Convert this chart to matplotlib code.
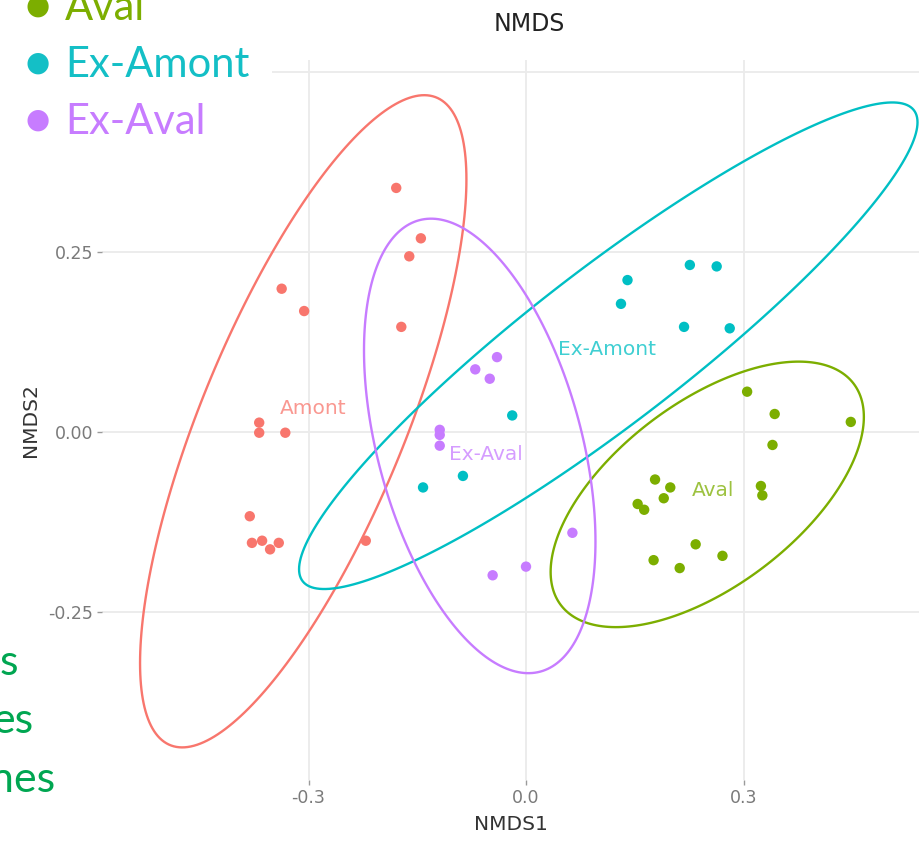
import numpy as np
import matplotlib
matplotlib.use('Agg')
import matplotlib.pyplot as plt
from matplotlib.patches import Rectangle, Polygon

# ---------------- data ----------------
groups = ['Amont', 'Aval', 'Ex-Amont', 'Ex-Aval']
colors = ['#F8766D', '#7CAE00', '#00BFC4', '#C77CFF']

amont_x = [-0.179, -0.145, -0.161, -0.337, -0.306, -0.172, -0.368, -0.368,
           -0.332, -0.381, -0.378, -0.364, -0.353, -0.341, -0.221]
amont_y = [0.339, 0.269, 0.244, 0.199, 0.168, 0.146, 0.013, -0.001,
           -0.001, -0.117, -0.154, -0.151, -0.163, -0.154, -0.151]

aval_x = [0.305, 0.343, 0.448, 0.340, 0.178, 0.199, 0.190, 0.154,
          0.163, 0.324, 0.326, 0.234, 0.176, 0.212, 0.271]
aval_y = [0.056, 0.025, 0.014, -0.018, -0.066, -0.077, -0.092, -0.100,
          -0.108, -0.075, -0.088, -0.156, -0.178, -0.189, -0.172]

examont_x = [0.140, 0.131, 0.226, 0.263, 0.218, 0.281, -0.019, -0.087, -0.142]
examont_y = [0.211, 0.178, 0.232, 0.230, 0.146, 0.144, 0.023, -0.061, -0.077]

exaval_x = [-0.040, -0.070, -0.050, -0.119, -0.119, -0.119, 0.064, 0.000, -0.046]
exaval_y = [0.104, 0.087, 0.074, 0.003, -0.004, -0.019, -0.140, -0.187, -0.199]

xs = [amont_x, aval_x, examont_x, exaval_x]
ys = [amont_y, aval_y, examont_y, exaval_y]

xticks = [-0.3, 0.0, 0.3]
xticklabels = ['-0.3', '0.0', '0.3']
yticks = [-0.25, 0.0, 0.25, 0.5]
yticklabels = ['-0.25', '0.00', '0.25', '0.50']

legend_labels = ['Aval', 'Ex-Amont', 'Ex-Aval']
legend_colors = ['#7CAE00', '#14BFC6', '#C77CFF']
side_text = ['s', 'es', 'nes']


# ------------- stat_ellipse (type "t", level 0.95) -------------
def cov_trob(X, nu=5, maxit=25, tol=0.01):
    n, p = X.shape
    wt = np.ones(n)
    loc = X.mean(axis=0)
    w = np.sqrt(wt)
    Xc = X - loc
    for _ in range(maxit):
        w0 = w
        Xc = X - loc
        A = np.sqrt(w / w.sum())[:, None] * Xc
        _, d, Vt = np.linalg.svd(A, full_matrices=False)
        wX = Xc @ Vt.T @ np.diag(1.0 / d)
        Q = (wX ** 2).sum(axis=1)
        w = (wt * (nu + p)) / (nu + Q)
        loc = (w[:, None] * X).sum(axis=0) / w.sum()
        if np.all(np.abs(w - w0) < tol):
            break
    S = np.sqrt(w)[:, None] * Xc
    cov = S.T @ S / wt.sum()
    return cov, loc


def ellipse_path(x, y, level=0.95, segments=240):
    X = np.column_stack([x, y])
    cov, center = cov_trob(X)
    dfd = len(X) - 1
    fq = (dfd / 2.0) * ((1 - level) ** (-2.0 / dfd) - 1)
    radius = np.sqrt(2 * fq)
    L = np.linalg.cholesky(cov)
    ang = np.linspace(0, 2 * np.pi, segments, endpoint=False)
    uc = np.column_stack([np.cos(ang), np.sin(ang)])
    return center + radius * (uc @ L.T)


# ---------------- figure ----------------
W, H = 920, 844
fig = plt.figure(figsize=(W / 100, H / 100), dpi=100)
fig.patch.set_facecolor('white')

left_px, right_px, top_px, bot_px = 102, 920, 60, 780
ax = fig.add_axes([left_px / W, 1 - bot_px / H, (right_px - left_px) / W,
                   (bot_px - top_px) / H])
ax.set_facecolor('white')

# data-to-pixel: x0=526 px, 725 px/unit ; y0=432 px, 720 px/unit
ax.set_xlim((left_px - 526) / 725, (right_px - 526) / 725)
ax.set_ylim((432 - bot_px) / 720, (432 - top_px) / 720)

for s in ax.spines.values():
    s.set_visible(False)
ax.grid(True, color='#ebebeb', linewidth=1.3)
ax.set_axisbelow(True)
ax.set_xticks(xticks)
ax.set_xticklabels(xticklabels)
ax.set_yticks(yticks)
ax.set_yticklabels(yticklabels)
ax.tick_params(axis='both', colors='#9a9a9a', labelcolor='#7a7a7a',
               length=3.5, width=1, labelsize=12.5, pad=3)

for g, c, x, y in zip(groups, colors, xs, ys):
    pts = ellipse_path(x, y)
    ax.add_patch(Polygon(pts, closed=True, fill=False, edgecolor=c,
                         lw=1.7, joinstyle='round', zorder=2))
for g, c, x, y in zip(groups, colors, xs, ys):
    ax.scatter(x, y, s=56, color=c, edgecolor='none', zorder=3)
    ax.text(np.mean(x), np.mean(y), g, color=c, alpha=0.75, fontsize=14.5,
            ha='center', va='center', zorder=4)

ax.set_xlabel('NMDS1', fontsize=14.5, color='#333333', labelpad=6)
ax.set_ylabel('NMDS2', fontsize=14.5, color='#333333', labelpad=6)
fig.text(529 / W, 1 - 24 / H, 'NMDS', fontsize=17, color='#222222',
         ha='center', va='center', fontweight='medium')

# ---- slide overlay: legend (top-left) and side text (bottom-left) ----
fig.patches.append(Rectangle((0, 1 - 148 / H), 272 / W, 148 / H,
                             transform=fig.transFigure, facecolor='white',
                             edgecolor='none', zorder=5))
leg_y = [6, 63, 120]
for lab, col, yy in zip(legend_labels, legend_colors, leg_y):
    fig.text(38 / W, 1 - yy / H, '\u25CF', color=col, fontsize=20,
             ha='center', va='center', family=['DejaVu Sans'], zorder=6)
    fig.text(65 / W, 1 - (yy + 2) / H, lab, color=col, fontsize=30,
             ha='left', va='center', family=['Lato', 'DejaVu Sans'], zorder=6)

side_right = [18, 33, 55]
side_base = [675, 733, 792]
for t, xr, yb in zip(side_text, side_right, side_base):
    fig.text(xr / W, 1 - yb / H, t, color='#00A651', fontsize=31,
             ha='right', va='baseline', family=['Lato', 'DejaVu Sans'], zorder=6)

fig.savefig('out.png', dpi=100, facecolor='white')
